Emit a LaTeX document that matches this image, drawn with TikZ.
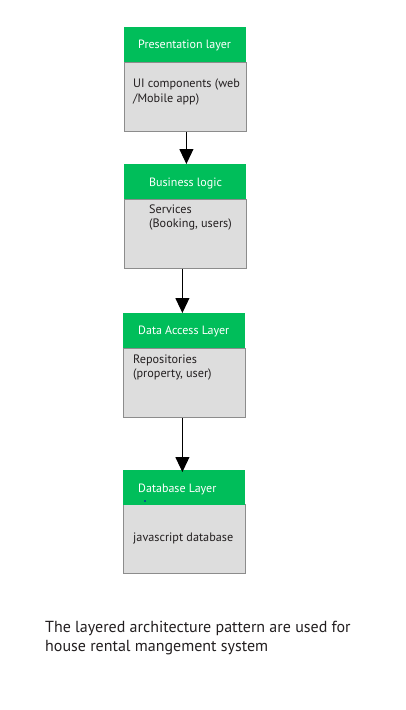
\documentclass[tikz,border=0pt]{standalone}
\usepackage{fontspec}
\setmainfont{PT Sans}
\usetikzlibrary{arrows.meta}
\definecolor{hdrgreen}{RGB}{0,190,90}
\definecolor{bodygray}{RGB}{221,221,221}
\definecolor{edgegray}{RGB}{140,140,140}
\definecolor{txt}{RGB}{35,31,32}
\tikzset{
  hdr/.style={fill=hdrgreen, draw=none, minimum width=122pt, minimum height=35pt, anchor=north west, inner sep=0pt},
  body/.style={fill=bodygray, draw=edgegray, line width=0.8pt, minimum width=122pt, minimum height=69pt, anchor=north west, inner sep=0pt},
  htext/.style={text=white, font=\fontsize{12}{14}\selectfont, anchor=base west, inner sep=0pt},
  btext/.style={text=txt, font=\fontsize{12.2}{15}\selectfont, anchor=base west, inner sep=0pt, align=left},
  arr/.style={draw=black, line width=1pt, -{Triangle[width=14pt,length=15pt]}},
}
\begin{document}
\begin{tikzpicture}[x=1pt,y=-1pt]
\useasboundingbox[fill=white] (0,0) rectangle (405,710);
% box 1
\node[body] (b1) at (124,62) {};
\node[hdr] (h1) at (124,27) {};
\node[htext] (t1) at (138,48) {Presentation layer};
\node[btext] (u1) at (133,87) {UI components (web};
\node[btext] (u1b) at (133,102) {/Mobile app)};
% box 2
\node[body] (b2) at (124,199) {};
\node[hdr] (h2) at (124,164) {};
\node[htext] (t2) at (149,186) {Business logic};
\node[btext] (u2) at (149,213) {Services};
\node[btext] (u2b) at (149,227) {(Booking, users)};
% box 3
\node[body] (b3) at (123,348) {};
\node[hdr] (h3) at (123,313) {};
\node[htext] (t3) at (138,334) {Data Access Layer};
\node[btext] (u3) at (133,363) {Repositories};
\node[btext] (u3b) at (133,377) {(property, user)};
% box 4
\node[body] (b4) at (123,504) {};
\node[hdr] (h4) at (123,470) {};
\node[htext] (t4) at (138,492) {Database Layer};
\fill[blue!70!black] (145,501) circle (0.9pt);
\node[btext] (u4) at (133,541) {javascript database};
% arrows
\coordinate (a1) at ([xshift=1pt]b1.south);
\coordinate (a2) at ([xshift=-3pt]b2.south);
\coordinate (a3) at ([xshift=-2pt]b3.south);
\draw[arr] (a1) -- (a1 |- h2.north);
\draw[arr] (a2) -- (a2 |- h3.north);
\draw[arr] (a3) -- ([yshift=-2pt]a3 |- h4.north);
% caption
\node[anchor=base west, inner sep=0pt, text=txt, font=\fontsize{16}{19}\selectfont] (cap1) at (45,632) {The layered architecture pattern are used for};
\node[anchor=base west, inner sep=0pt, text=txt, font=\fontsize{16}{19}\selectfont] (cap2) at (45,651) {house rental mangement system};
\end{tikzpicture}
\end{document}
